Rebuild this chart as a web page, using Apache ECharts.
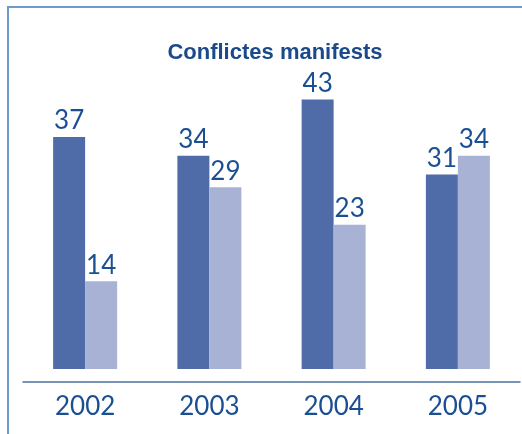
<!DOCTYPE html>
<html><head><meta charset="utf-8">
<script src="https://cdn.jsdelivr.net/npm/echarts@6/dist/echarts.min.js"></script>
<style>html,body{margin:0;padding:0;background:#fff}#c{width:522px;height:434px}</style>
</head><body><div id="c"></div>
<script>
const categories = ['2002', '2003', '2004', '2005'];
const seriesA = [37, 34, 43, 31];
const seriesB = [14, 29, 23, 34];
const titleText = 'Conflictes manifests';

const textColor = '#1b4f93';
const chart = echarts.init(document.getElementById('c'));
const labelStyle = {show: true, position: 'top', distance: 3, color: textColor, fontFamily: 'Lato', fontWeight: 'normal', fontSize: 26};
chart.setOption({
  animation: false,
  backgroundColor: '#fff',
  title: {text: titleText, left: 270, top: 37, textAlign: 'center',
    textStyle: {color: '#1a4a8a', fontFamily: 'Liberation Sans', fontWeight: 'bold', fontSize: 22}},
  graphic: [
    {type: 'line', shape: {x1: 8, y1: 7, x2: 522, y2: 7}, style: {stroke: '#6f9bcc', lineWidth: 2}},
    {type: 'line', shape: {x1: 8, y1: 6, x2: 8, y2: 434}, style: {stroke: '#6f9bcc', lineWidth: 2}}
  ],
  grid: {left: 23, right: 2, top: 55.5, bottom: 52.5},
  xAxis: {type: 'category', data: categories,
    axisLine: {onZero: false, lineStyle: {color: '#4a6fa0', width: 1.5}},
    axisTick: {show: false},
    axisLabel: {color: textColor, fontFamily: 'Lato', fontWeight: 'normal', fontSize: 26, margin: 12}},
  yAxis: {type: 'value', min: -2, max: 50, show: false, splitLine: {show: false}},
  series: [
    {type: 'bar', data: seriesA, barWidth: 32, barGap: '0%', itemStyle: {color: '#506ca8'}, label: labelStyle},
    {type: 'bar', data: seriesB, barWidth: 32, barGap: '0%', itemStyle: {color: '#a8b2d4'}, label: labelStyle}
  ]
});
</script></body></html>
